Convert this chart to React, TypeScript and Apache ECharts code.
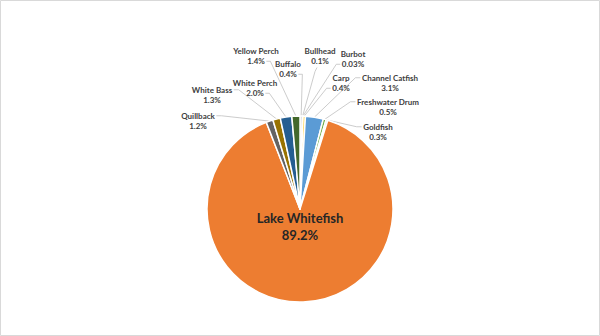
import React, { useEffect, useRef } from 'react';
import * as echarts from 'echarts';

// Share of total catch by species (percent)
const species = [
  'Buffalo',
  'Bullhead',
  'Burbot',
  'Carp',
  'Channel Catfish',
  'Freshwater Drum',
  'Goldfish',
  'Lake Whitefish',
  'Quillback',
  'White Bass',
  'White Perch',
  'Yellow Perch',
];
const sharePct = [0.4, 0.1, 0.03, 0.4, 3.1, 0.5, 0.3, 89.2, 1.2, 1.3, 2.0, 1.4];

const sliceColors = [
  '#A5A5A5',
  '#ED7D31',
  '#4472C4',
  '#FFC000',
  '#5B9BD5',
  '#70AD47',
  '#C9C9C9',
  '#ED7D31',
  '#636363',
  '#997300',
  '#255E91',
  '#43682B',
];

// Where each callout sits (block centre) and which side its leader line leaves from
type Spot = { x: number; y: number; side: 'r1' | 'r2' | 'l1' | 'l2' | 'b' | 'none' };
const labelSpots: Record<string, Spot> = {
  Buffalo: { x: 288, y: 69, side: 'r2' },
  Bullhead: { x: 320, y: 56, side: 'b' },
  Burbot: { x: 353, y: 59, side: 'l2' },
  Carp: { x: 341, y: 83, side: 'l2' },
  'Channel Catfish': { x: 390, y: 83, side: 'l1' },
  'Freshwater Drum': { x: 388, y: 107, side: 'l1' },
  Goldfish: { x: 378, y: 132, side: 'l1' },
  'Lake Whitefish': { x: 300, y: 226, side: 'none' },
  Quillback: { x: 198, y: 121, side: 'r1' },
  'White Bass': { x: 212, y: 95, side: 'r1' },
  'White Perch': { x: 255, y: 88, side: 'r2' },
  'Yellow Perch': { x: 256, y: 56, side: 'r2' },
};

const FONT = 'Lato, "Open Sans", sans-serif';
const LABEL_SIZE = 8;
const LINE_H = 10.5;

const pctText = (v: number) => (v < 0.1 ? v.toFixed(2) : v.toFixed(1)) + '%';

let measureCtx: CanvasRenderingContext2D | null = null;
function textWidth(s: string): number {
  if (!measureCtx) measureCtx = document.createElement('canvas').getContext('2d');
  if (!measureCtx) return s.length * 4.5;
  measureCtx.font = `bold ${LABEL_SIZE}px ${FONT}`;
  return measureCtx.measureText(s).width;
}

export default function App() {
  const ref = useRef<HTMLDivElement>(null);

  useEffect(() => {
    if (!ref.current) return;
    const chart = echarts.init(ref.current, undefined, { renderer: 'svg' });

    const data = species.map((name, i) => {
      const item: any = {
        name,
        value: sharePct[i],
        itemStyle: { color: sliceColors[i] },
      };
      if (name === 'Lake Whitefish') {
        item.label = {
          fontSize: 13,
          lineHeight: 17,
          color: '#262626',
        };
        item.labelLine = { show: false };
      }
      return item;
    });

    chart.setOption({
      animation: false,
      backgroundColor: '#ffffff',
      graphic: [
        {
          type: 'rect',
          shape: { x: 0.5, y: 0.5, width: 599, height: 335 },
          style: { fill: 'none', stroke: '#D9D9D9', lineWidth: 1 },
          silent: true,
        },
      ],
      series: [
        {
          type: 'pie',
          center: [300, 209],
          radius: 93,
          startAngle: 90,
          clockwise: true,
          avoidLabelOverlap: false,
          itemStyle: { borderColor: '#ffffff', borderWidth: 1.5 },
          label: {
            show: true,
            position: 'outside',
            fontFamily: FONT,
            fontWeight: 'bold',
            fontSize: LABEL_SIZE,
            lineHeight: LINE_H,
            color: '#404040',
            formatter: (p: any) => `${p.name}\n${pctText(sharePct[p.dataIndex])}`,
          },
          labelLine: {
            show: true,
            length: 8,
            length2: 8,
            lineStyle: { color: '#BFBFBF', width: 0.8 },
          },
          labelLayout: (p: any) => {
            const name = species[p.dataIndex];
            const spot = labelSpots[name];
            if (!spot) return {};
            const base = { x: spot.x, y: spot.y, align: 'center', verticalAlign: 'middle' };
            if (spot.side === 'none') return base;
            const anchor: number[] | undefined = p.labelLinePoints && p.labelLinePoints[0];
            if (!anchor) return base;
            const nameW = textWidth(name);
            const valW = textWidth(pctText(sharePct[p.dataIndex]));
            const y1 = spot.y - LINE_H / 2;
            const y2 = spot.y + LINE_H / 2;
            let start: number[];
            let elbow: number[];
            switch (spot.side) {
              case 'r1':
                start = [spot.x + nameW / 2 + 1.5, y1];
                elbow = [start[0] + 5, y1];
                break;
              case 'r2':
                start = [spot.x + valW / 2 + 1.5, y2];
                elbow = [start[0] + 4, y2];
                break;
              case 'l1':
                start = [spot.x - nameW / 2 - 1.5, y1];
                elbow = [start[0] - 5, y1];
                break;
              case 'l2':
                start = [spot.x - valW / 2 - 1.5, y2];
                elbow = [start[0] - 4, y2];
                break;
              default:
                start = [spot.x - 3, spot.y + LINE_H + 1];
                elbow = [spot.x - 5, spot.y + LINE_H + 5];
            }
            return { ...base, labelLinePoints: [start, elbow, [anchor[0], anchor[1]]] };
          },
          data,
        },
      ],
    });

    return () => chart.dispose();
  }, []);

  return (
    <div
      ref={ref}
      style={{ position: 'fixed', left: 0, top: 0, width: 600, height: 336 }}
    />
  );
}
